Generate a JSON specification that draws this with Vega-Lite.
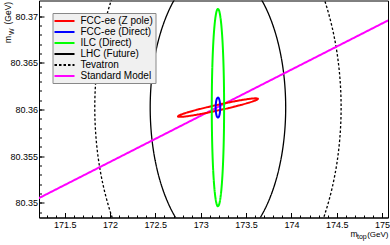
{
  "$schema": "https://vega.github.io/schema/vega-lite/v6.json",
  "autosize": {"type": "none"},
  "padding": {"left": 39, "top": 0.5, "right": 2, "bottom": 27.5},
  "width": 349,
  "height": 217,
  "config": {
    "font": "Liberation Sans",
    "view": {"stroke": "#000", "strokeWidth": 1},
    "axis": {"labelFont": "Liberation Sans", "titleFont": "Liberation Sans", "labelColor": "#000", "titleColor": "#000", "tickColor": "#000", "domainColor": "#000", "titleFontWeight": "normal", "grid": false, "labelFlush": false, "labelOverlap": false}
  },
  "data": {"values": [
    {"s": "FCC-ee (Z pole)", "i": 0, "x": 173.631, "y": 80.36115},
    {"s": "FCC-ee (Z pole)", "i": 1, "x": 173.6177, "y": 80.36104},
    {"s": "FCC-ee (Z pole)", "i": 2, "x": 173.5753, "y": 80.36087},
    {"s": "FCC-ee (Z pole)", "i": 3, "x": 173.5066, "y": 80.36066},
    {"s": "FCC-ee (Z pole)", "i": 4, "x": 173.4163, "y": 80.36042},
    {"s": "FCC-ee (Z pole)", "i": 5, "x": 173.3106, "y": 80.36016},
    {"s": "FCC-ee (Z pole)", "i": 6, "x": 173.1967, "y": 80.35991},
    {"s": "FCC-ee (Z pole)", "i": 7, "x": 173.0823, "y": 80.35967},
    {"s": "FCC-ee (Z pole)", "i": 8, "x": 172.9753, "y": 80.35947},
    {"s": "FCC-ee (Z pole)", "i": 9, "x": 172.8829, "y": 80.35932},
    {"s": "FCC-ee (Z pole)", "i": 10, "x": 172.8114, "y": 80.35923},
    {"s": "FCC-ee (Z pole)", "i": 11, "x": 172.7658, "y": 80.35921},
    {"s": "FCC-ee (Z pole)", "i": 12, "x": 172.749, "y": 80.35925},
    {"s": "FCC-ee (Z pole)", "i": 13, "x": 172.7623, "y": 80.35936},
    {"s": "FCC-ee (Z pole)", "i": 14, "x": 172.8048, "y": 80.35953},
    {"s": "FCC-ee (Z pole)", "i": 15, "x": 172.8735, "y": 80.35974},
    {"s": "FCC-ee (Z pole)", "i": 16, "x": 172.9637, "y": 80.35998},
    {"s": "FCC-ee (Z pole)", "i": 17, "x": 173.0694, "y": 80.36024},
    {"s": "FCC-ee (Z pole)", "i": 18, "x": 173.1833, "y": 80.36049},
    {"s": "FCC-ee (Z pole)", "i": 19, "x": 173.2977, "y": 80.36073},
    {"s": "FCC-ee (Z pole)", "i": 20, "x": 173.4047, "y": 80.36093},
    {"s": "FCC-ee (Z pole)", "i": 21, "x": 173.4971, "y": 80.36108},
    {"s": "FCC-ee (Z pole)", "i": 22, "x": 173.5686, "y": 80.36117},
    {"s": "FCC-ee (Z pole)", "i": 23, "x": 173.6142, "y": 80.36119},

    {"s": "FCC-ee (Direct)", "i": 0, "x": 173.215, "y": 80.3602},
    {"s": "FCC-ee (Direct)", "i": 1, "x": 173.2117, "y": 80.36074},
    {"s": "FCC-ee (Direct)", "i": 2, "x": 173.2025, "y": 80.36113},
    {"s": "FCC-ee (Direct)", "i": 3, "x": 173.19, "y": 80.36127},
    {"s": "FCC-ee (Direct)", "i": 4, "x": 173.1775, "y": 80.36113},
    {"s": "FCC-ee (Direct)", "i": 5, "x": 173.1683, "y": 80.36074},
    {"s": "FCC-ee (Direct)", "i": 6, "x": 173.165, "y": 80.3602},
    {"s": "FCC-ee (Direct)", "i": 7, "x": 173.1683, "y": 80.35967},
    {"s": "FCC-ee (Direct)", "i": 8, "x": 173.1775, "y": 80.35927},
    {"s": "FCC-ee (Direct)", "i": 9, "x": 173.19, "y": 80.35913},
    {"s": "FCC-ee (Direct)", "i": 10, "x": 173.2025, "y": 80.35927},
    {"s": "FCC-ee (Direct)", "i": 11, "x": 173.2117, "y": 80.35967},

    {"s": "ILC (Direct)", "i": 0, "x": 173.258, "y": 80.3602},
    {"s": "ILC (Direct)", "i": 1, "x": 173.2557, "y": 80.36294},
    {"s": "ILC (Direct)", "i": 2, "x": 173.2489, "y": 80.36549},
    {"s": "ILC (Direct)", "i": 3, "x": 173.2381, "y": 80.36768},
    {"s": "ILC (Direct)", "i": 4, "x": 173.224, "y": 80.36936},
    {"s": "ILC (Direct)", "i": 5, "x": 173.2076, "y": 80.37042},
    {"s": "ILC (Direct)", "i": 6, "x": 173.19, "y": 80.37078},
    {"s": "ILC (Direct)", "i": 7, "x": 173.1724, "y": 80.37042},
    {"s": "ILC (Direct)", "i": 8, "x": 173.156, "y": 80.36936},
    {"s": "ILC (Direct)", "i": 9, "x": 173.1419, "y": 80.36768},
    {"s": "ILC (Direct)", "i": 10, "x": 173.1311, "y": 80.36549},
    {"s": "ILC (Direct)", "i": 11, "x": 173.1243, "y": 80.36294},
    {"s": "ILC (Direct)", "i": 12, "x": 173.122, "y": 80.3602},
    {"s": "ILC (Direct)", "i": 13, "x": 173.1243, "y": 80.35746},
    {"s": "ILC (Direct)", "i": 14, "x": 173.1311, "y": 80.35491},
    {"s": "ILC (Direct)", "i": 15, "x": 173.1419, "y": 80.35272},
    {"s": "ILC (Direct)", "i": 16, "x": 173.156, "y": 80.35104},
    {"s": "ILC (Direct)", "i": 17, "x": 173.1724, "y": 80.34998},
    {"s": "ILC (Direct)", "i": 18, "x": 173.19, "y": 80.34962},
    {"s": "ILC (Direct)", "i": 19, "x": 173.2076, "y": 80.34998},
    {"s": "ILC (Direct)", "i": 20, "x": 173.224, "y": 80.35104},
    {"s": "ILC (Direct)", "i": 21, "x": 173.2381, "y": 80.35272},
    {"s": "ILC (Direct)", "i": 22, "x": 173.2489, "y": 80.35491},
    {"s": "ILC (Direct)", "i": 23, "x": 173.2557, "y": 80.35746},

    {"s": "LHC (Future)", "i": 0, "x": 173.937, "y": 80.3602},
    {"s": "LHC (Future)", "i": 1, "x": 173.9115, "y": 80.36411},
    {"s": "LHC (Future)", "i": 2, "x": 173.8369, "y": 80.36775},
    {"s": "LHC (Future)", "i": 3, "x": 173.7182, "y": 80.37088},
    {"s": "LHC (Future)", "i": 4, "x": 173.5635, "y": 80.37328},
    {"s": "LHC (Future)", "i": 5, "x": 173.3833, "y": 80.37479},
    {"s": "LHC (Future)", "i": 6, "x": 173.19, "y": 80.3753},
    {"s": "LHC (Future)", "i": 7, "x": 172.9967, "y": 80.37479},
    {"s": "LHC (Future)", "i": 8, "x": 172.8165, "y": 80.37328},
    {"s": "LHC (Future)", "i": 9, "x": 172.6618, "y": 80.37088},
    {"s": "LHC (Future)", "i": 10, "x": 172.5431, "y": 80.36775},
    {"s": "LHC (Future)", "i": 11, "x": 172.4685, "y": 80.36411},
    {"s": "LHC (Future)", "i": 12, "x": 172.443, "y": 80.3602},
    {"s": "LHC (Future)", "i": 13, "x": 172.4685, "y": 80.35629},
    {"s": "LHC (Future)", "i": 14, "x": 172.5431, "y": 80.35265},
    {"s": "LHC (Future)", "i": 15, "x": 172.6618, "y": 80.34952},
    {"s": "LHC (Future)", "i": 16, "x": 172.8165, "y": 80.34712},
    {"s": "LHC (Future)", "i": 17, "x": 172.9967, "y": 80.34562},
    {"s": "LHC (Future)", "i": 18, "x": 173.19, "y": 80.3451},
    {"s": "LHC (Future)", "i": 19, "x": 173.3833, "y": 80.34562},
    {"s": "LHC (Future)", "i": 20, "x": 173.5635, "y": 80.34712},
    {"s": "LHC (Future)", "i": 21, "x": 173.7182, "y": 80.34952},
    {"s": "LHC (Future)", "i": 22, "x": 173.8369, "y": 80.35265},
    {"s": "LHC (Future)", "i": 23, "x": 173.9115, "y": 80.35629},

    {"s": "Tevatron", "i": 0, "x": 174.548, "y": 80.3602},
    {"s": "Tevatron", "i": 1, "x": 174.5017, "y": 80.36615},
    {"s": "Tevatron", "i": 2, "x": 174.366, "y": 80.3717},
    {"s": "Tevatron", "i": 3, "x": 174.1502, "y": 80.37646},
    {"s": "Tevatron", "i": 4, "x": 173.869, "y": 80.38012},
    {"s": "Tevatron", "i": 5, "x": 173.5415, "y": 80.38242},
    {"s": "Tevatron", "i": 6, "x": 173.19, "y": 80.3832},
    {"s": "Tevatron", "i": 7, "x": 172.8386, "y": 80.38242},
    {"s": "Tevatron", "i": 8, "x": 172.511, "y": 80.38012},
    {"s": "Tevatron", "i": 9, "x": 172.2298, "y": 80.37646},
    {"s": "Tevatron", "i": 10, "x": 172.014, "y": 80.3717},
    {"s": "Tevatron", "i": 11, "x": 171.8783, "y": 80.36615},
    {"s": "Tevatron", "i": 12, "x": 171.832, "y": 80.3602},
    {"s": "Tevatron", "i": 13, "x": 171.8783, "y": 80.35425},
    {"s": "Tevatron", "i": 14, "x": 172.014, "y": 80.3487},
    {"s": "Tevatron", "i": 15, "x": 172.2298, "y": 80.34394},
    {"s": "Tevatron", "i": 16, "x": 172.511, "y": 80.34028},
    {"s": "Tevatron", "i": 17, "x": 172.8386, "y": 80.33798},
    {"s": "Tevatron", "i": 18, "x": 173.19, "y": 80.3372},
    {"s": "Tevatron", "i": 19, "x": 173.5415, "y": 80.33798},
    {"s": "Tevatron", "i": 20, "x": 173.869, "y": 80.34028},
    {"s": "Tevatron", "i": 21, "x": 174.1502, "y": 80.34394},
    {"s": "Tevatron", "i": 22, "x": 174.366, "y": 80.3487},
    {"s": "Tevatron", "i": 23, "x": 174.5017, "y": 80.35425},

    {"s": "Standard Model", "i": 0, "x": 171.0, "y": 80.34943},
    {"s": "Standard Model", "i": 1, "x": 175.3, "y": 80.3707}
  ]},
  "resolve": {"axis": {"x": "independent", "y": "independent"}},
  "layer": [
    {
      "transform": [{"filter": "datum.s == 'LHC (Future)' || datum.s == 'Tevatron'"}],
      "mark": {"type": "line", "interpolate": "cardinal-closed", "clip": true, "strokeWidth": 1.3},
      "encoding": {
        "x": {"field": "x", "type": "quantitative", "scale": {"domain": [171.217, 175.065], "nice": false, "zero": false},
          "axis": {"orient": "bottom", "values": [171.5, 172, 172.5, 173, 173.5, 174, 174.5, 175], "format": ".1~f", "tickSize": -5, "labelPadding": 8, "labelFontSize": 9, "title": "m", "titleFontSize": 8.5, "titleX": 311, "titleY": 19, "titleAlign": "left", "titleBaseline": "alphabetic"}},
        "y": {"field": "y", "type": "quantitative", "scale": {"domain": [80.34842, 80.37168], "nice": false, "zero": false},
          "axis": {"orient": "left", "values": [80.35, 80.355, 80.36, 80.365, 80.37], "format": ".3~f", "tickSize": -5, "labelPadding": 6.5, "labelFontSize": 9, "title": "m", "titleFontSize": 8.5, "titleX": -29, "titleY": 42, "titleAngle": -90, "titleAlign": "left", "titleBaseline": "alphabetic"}},
        "color": {"field": "s", "type": "nominal", "scale": {"domain": ["FCC-ee (Z pole)", "FCC-ee (Direct)", "ILC (Direct)", "LHC (Future)", "Tevatron", "Standard Model"], "range": ["#ff0000", "#0000ff", "#00ff00", "#000000", "#000000", "#ff00ff"]},
          "legend": {"orient": "none", "legendX": 13.5, "legendY": 12.5, "title": null, "fillColor": "#f0f0f0", "strokeColor": "#888888", "padding": 2, "symbolType": "M-2,0H2", "symbolSize": 100, "symbolStrokeWidth": 2, "symbolOffset": 4, "labelFontSize": 10, "labelOffset": 10, "labelColor": "#000", "rowPadding": 0}},
        "strokeDash": {"field": "s", "type": "nominal", "scale": {"domain": ["FCC-ee (Z pole)", "FCC-ee (Direct)", "ILC (Direct)", "LHC (Future)", "Tevatron", "Standard Model"], "range": [[1, 0], [1, 0], [1, 0], [1, 0], [2.5, 2], [1, 0]]},
          "legend": {"orient": "none", "legendX": 13.5, "legendY": 12.5, "title": null}},
        "order": {"field": "i", "type": "quantitative"}
      }
    },
    {
      "transform": [{"filter": "datum.s == 'Standard Model'"}],
      "mark": {"type": "line", "clip": true, "strokeWidth": 2},
      "encoding": {
        "x": {"field": "x", "type": "quantitative", "axis": {"orient": "bottom", "ticks": false, "labels": false, "domain": false, "title": "top", "titleFontSize": 7, "titleX": 317.5, "titleY": 20.5, "titleAlign": "left", "titleBaseline": "alphabetic"}},
        "y": {"field": "y", "type": "quantitative", "axis": {"orient": "left", "ticks": false, "labels": false, "domain": false, "title": "W", "titleFontSize": 7, "titleX": -25.8, "titleY": 34, "titleAngle": -90, "titleAlign": "left", "titleBaseline": "alphabetic"}},
        "color": {"field": "s", "type": "nominal"},
        "strokeDash": {"field": "s", "type": "nominal"},
        "order": {"field": "i", "type": "quantitative"}
      }
    },
    {
      "transform": [{"filter": "datum.s == 'FCC-ee (Z pole)' || datum.s == 'FCC-ee (Direct)' || datum.s == 'ILC (Direct)'"}],
      "mark": {"type": "line", "interpolate": "cardinal-closed", "clip": true, "strokeWidth": 2},
      "encoding": {
        "x": {"field": "x", "type": "quantitative", "axis": {"orient": "bottom", "values": [171.3, 171.4, 171.5, 171.6, 171.7, 171.8, 171.9, 172, 172.1, 172.2, 172.3, 172.4, 172.5, 172.6, 172.7, 172.8, 172.9, 173, 173.1, 173.2, 173.3, 173.4, 173.5, 173.6, 173.7, 173.8, 173.9, 174, 174.1, 174.2, 174.3, 174.4, 174.5, 174.6, 174.7, 174.8, 174.9, 175], "tickSize": -2.5, "labels": false, "domain": false, "title": "(GeV)", "titleFontSize": 8, "titleX": 349, "titleY": 19, "titleAlign": "right", "titleBaseline": "alphabetic"}},
        "y": {"field": "y", "type": "quantitative", "axis": {"orient": "left", "values": [80.349, 80.35, 80.351, 80.352, 80.353, 80.354, 80.355, 80.356, 80.357, 80.358, 80.359, 80.36, 80.361, 80.362, 80.363, 80.364, 80.365, 80.366, 80.367, 80.368, 80.369, 80.37, 80.371], "tickSize": -2.5, "labels": false, "domain": false, "title": "(GeV)", "titleFontSize": 8.5, "titleX": -29, "titleY": 23.5, "titleAngle": -90, "titleAlign": "left", "titleBaseline": "alphabetic"}},
        "color": {"field": "s", "type": "nominal"},
        "strokeDash": {"field": "s", "type": "nominal"},
        "order": {"field": "i", "type": "quantitative"}
      }
    }
  ]
}
